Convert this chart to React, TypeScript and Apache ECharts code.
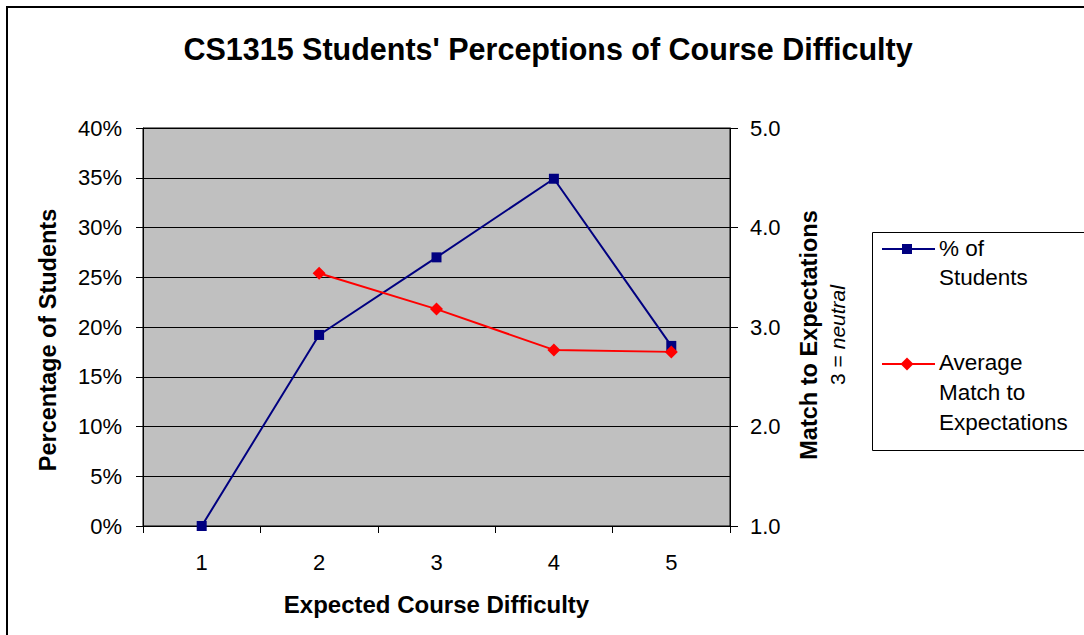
import React, { useEffect, useRef } from "react";
import * as echarts from "echarts";

const categories = ["1", "2", "3", "4", "5"];
const pctStudents = [0, 19.2, 27.0, 34.9, 18.1];
const avgMatch: (number | null)[] = [null, 3.54, 3.18, 2.77, 2.75];
const leftTicks = { min: 0, max: 40, interval: 5 };
const rightTicks = { min: 1, max: 5, interval: 1 };
const titleText = "CS1315 Students' Perceptions of Course Difficulty";
const seriesNames = ["% of Students", "Average Match to Expectations"];

const FONT = "'Liberation Sans', Arial, sans-serif";

export default function App() {
  const ref = useRef<HTMLDivElement>(null);
  useEffect(() => {
    if (!ref.current) return;
    const chart = echarts.init(ref.current, null, { renderer: "svg" });
    const axisLabelStyle = { color: "#000", fontSize: 22, fontFamily: FONT };
    chart.setOption({
      animation: false,
      backgroundColor: "#fff",
      textStyle: { fontFamily: FONT },
      grid: {
        left: 143,
        top: 128,
        width: 587,
        height: 398,
        show: true,
        backgroundColor: "#C0C0C0",
        borderColor: "#000",
        borderWidth: 1,
      },
      xAxis: {
        type: "category",
        data: categories,
        boundaryGap: true,
        name: "Expected Course Difficulty",
        nameLocation: "middle",
        nameGap: 66,
        nameTextStyle: { color: "#000", fontSize: 24, fontWeight: "bold", fontFamily: FONT },
        axisLine: { lineStyle: { color: "#000", width: 1 } },
        axisTick: { show: true, length: 7, lineStyle: { color: "#000" } },
        axisLabel: { ...axisLabelStyle, margin: 25 },
        splitLine: { show: false },
      },
      yAxis: [
        {
          type: "value",
          position: "left",
          min: leftTicks.min,
          max: leftTicks.max,
          interval: leftTicks.interval,
          name: "Percentage of Students",
          nameLocation: "middle",
          nameRotate: 90,
          nameGap: 83,
          nameTextStyle: {
            color: "#000",
            fontSize: 23.5,
            fontWeight: "bold",
            fontFamily: FONT,
            padding: [0, 26, 0, 0],
          },
          axisLine: { show: true, lineStyle: { color: "#000", width: 1 } },
          axisTick: { show: true, length: 7, lineStyle: { color: "#000" } },
          axisLabel: { ...axisLabelStyle, margin: 21, formatter: "{value}%" },
          splitLine: { show: true, lineStyle: { color: "#000", width: 1 } },
        },
        {
          type: "value",
          position: "right",
          min: rightTicks.min,
          max: rightTicks.max,
          interval: rightTicks.interval,
          name: "{a|Match to Expectations}\n{b|3 = }{c|neutral}",
          nameLocation: "middle",
          nameRotate: 90,
          nameGap: 64,
          nameTextStyle: {
            color: "#000",
            padding: [0, 16, 0, 0],
            rich: {
              a: { fontSize: 23.5, fontWeight: "bold", fontFamily: FONT, lineHeight: 29, color: "#000" },
              b: { fontSize: 21, fontFamily: FONT, lineHeight: 29, color: "#000" },
              c: { fontSize: 21, fontStyle: "italic", fontFamily: FONT, lineHeight: 29, color: "#000" },
            },
          },
          axisLine: { show: true, lineStyle: { color: "#000", width: 1 } },
          axisTick: { show: true, length: 8, lineStyle: { color: "#000" } },
          axisLabel: {
            ...axisLabelStyle,
            margin: 20,
            formatter: (v: number) => v.toFixed(1),
          },
          splitLine: { show: false },
        },
      ],
      series: [
        {
          name: seriesNames[0],
          type: "line",
          data: pctStudents,
          yAxisIndex: 0,
          symbol: "rect",
          symbolSize: 10,
          lineStyle: { color: "#000080", width: 2 },
          itemStyle: { color: "#000080" },
        },
        {
          name: seriesNames[1],
          type: "line",
          data: avgMatch,
          yAxisIndex: 1,
          connectNulls: false,
          symbol: "diamond",
          symbolSize: 13,
          lineStyle: { color: "#FF0000", width: 2 },
          itemStyle: { color: "#FF0000" },
        },
      ],
      graphic: [
        {
          type: "rect",
          shape: { x: 7, y: 7, width: 1200, height: 800 },
          style: { fill: "none", stroke: "#000", lineWidth: 2 },
          silent: true,
        },
        {
          type: "text",
          x: 548,
          y: 49,
          style: {
            text: titleText,
            fill: "#000",
            font: `bold 30.5px ${FONT}`,
            textAlign: "center",
            textVerticalAlign: "middle",
          },
        },
        {
          type: "rect",
          shape: { x: 872.5, y: 232.5, width: 300, height: 218 },
          style: { fill: "#fff", stroke: "#000", lineWidth: 1 },
        },
        {
          type: "line",
          shape: { x1: 882, y1: 249, x2: 935, y2: 249 },
          style: { stroke: "#000080", lineWidth: 2 },
        },
        {
          type: "rect",
          shape: { x: 902, y: 244, width: 10, height: 10 },
          style: { fill: "#000080" },
        },
        {
          type: "text",
          x: 939,
          y: 234,
          style: {
            text: "% of\nStudents",
            fill: "#000",
            font: `22.5px ${FONT}`,
            lineHeight: 29,
            textVerticalAlign: "top",
            textAlign: "left",
          },
        },
        {
          type: "line",
          shape: { x1: 882, y1: 364, x2: 935, y2: 364 },
          style: { stroke: "#FF0000", lineWidth: 2 },
        },
        {
          type: "polygon",
          shape: { points: [[907, 357.5], [913.5, 364], [907, 370.5], [900.5, 364]] },
          style: { fill: "#FF0000" },
        },
        {
          type: "text",
          x: 939,
          y: 347,
          style: {
            text: "Average\nMatch to\nExpectations",
            fill: "#000",
            font: `22.5px ${FONT}`,
            lineHeight: 30,
            textVerticalAlign: "top",
            textAlign: "left",
          },
        },
      ],
    });
    return () => chart.dispose();
  }, []);
  return (
    <div
      ref={ref}
      style={{ position: "absolute", left: 0, top: 0, width: 1084, height: 635 }}
    />
  );
}
